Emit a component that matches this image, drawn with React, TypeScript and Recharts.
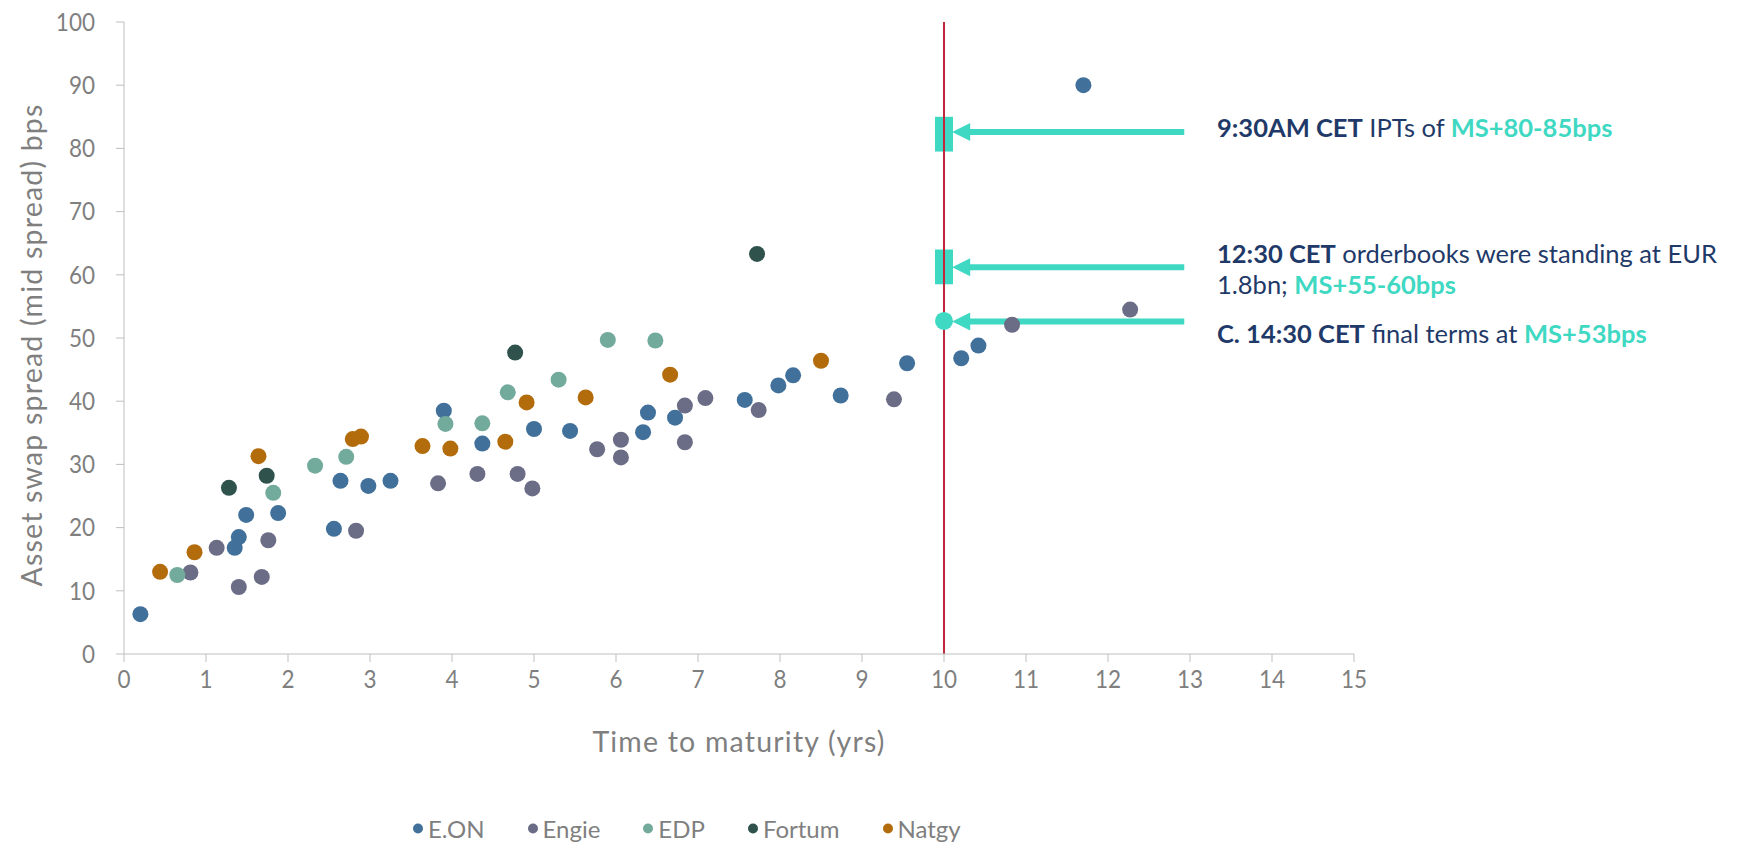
import React from 'react';
import {
  ScatterChart,
  Scatter,
  XAxis,
  YAxis,
  ReferenceLine,
  ReferenceArea,
  ReferenceDot,
} from 'recharts';

// bond points: time to maturity (yrs) vs asset swap spread (bps)
const eon = [
  { x: 0.2, y: 6.3 }, { x: 1.35, y: 16.8 }, { x: 1.4, y: 18.5 }, { x: 1.49, y: 22 },
  { x: 1.88, y: 22.3 }, { x: 2.56, y: 19.8 }, { x: 2.64, y: 27.4 }, { x: 2.98, y: 26.6 },
  { x: 3.25, y: 27.4 }, { x: 3.9, y: 38.5 }, { x: 4.37, y: 33.3 }, { x: 5.0, y: 35.6 },
  { x: 5.44, y: 35.3 }, { x: 6.33, y: 35.1 }, { x: 6.39, y: 38.2 }, { x: 6.72, y: 37.4 },
  { x: 7.57, y: 40.2 }, { x: 7.98, y: 42.5 }, { x: 8.16, y: 44.1 }, { x: 8.74, y: 40.9 },
  { x: 9.55, y: 46.0 }, { x: 10.21, y: 46.8 }, { x: 10.42, y: 48.8 }, { x: 11.7, y: 90 },
];
const engie = [
  { x: 0.81, y: 12.9 }, { x: 1.13, y: 16.8 }, { x: 1.4, y: 10.6 }, { x: 1.68, y: 12.2 },
  { x: 1.76, y: 18.0 }, { x: 2.83, y: 19.5 }, { x: 3.83, y: 27.0 }, { x: 4.31, y: 28.5 },
  { x: 4.8, y: 28.5 }, { x: 4.98, y: 26.2 }, { x: 5.77, y: 32.4 }, { x: 6.06, y: 33.9 },
  { x: 6.06, y: 31.1 }, { x: 6.84, y: 39.3 }, { x: 6.84, y: 33.5 }, { x: 7.09, y: 40.5 },
  { x: 7.74, y: 38.6 }, { x: 9.39, y: 40.3 }, { x: 10.83, y: 52.1 }, { x: 12.27, y: 54.5 },
];
const edp = [
  { x: 0.65, y: 12.5 }, { x: 1.82, y: 25.5 }, { x: 2.33, y: 29.8 }, { x: 2.71, y: 31.2 },
  { x: 3.92, y: 36.4 }, { x: 4.37, y: 36.5 }, { x: 4.68, y: 41.4 }, { x: 5.3, y: 43.4 },
  { x: 5.9, y: 49.7 }, { x: 6.48, y: 49.6 },
];
const fortum = [
  { x: 1.28, y: 26.3 }, { x: 1.74, y: 28.2 }, { x: 4.77, y: 47.7 }, { x: 7.72, y: 63.3 },
];
const natgy = [
  { x: 0.44, y: 13.0 }, { x: 0.86, y: 16.1 }, { x: 1.64, y: 31.3 }, { x: 2.79, y: 34.0 },
  { x: 2.89, y: 34.4 }, { x: 3.64, y: 32.9 }, { x: 3.98, y: 32.5 }, { x: 4.65, y: 33.6 },
  { x: 4.91, y: 39.8 }, { x: 5.63, y: 40.6 }, { x: 6.66, y: 44.2 }, { x: 8.5, y: 46.4 },
];

const seriesNames = ['E.ON', 'Engie', 'EDP', 'Fortum', 'Natgy'];
const seriesData = [eon, engie, edp, fortum, natgy];
const seriesColors = ['#41709A', '#6B6D87', '#72AA9C', '#2F524D', '#B36C0C'];

const xTicks = [0, 1, 2, 3, 4, 5, 6, 7, 8, 9, 10, 11, 12, 13, 14, 15];
const yTicks = [0, 10, 20, 30, 40, 50, 60, 70, 80, 90, 100];

// pricing timeline markers at the 10y point
const pricingX = 10;
const ranges = [
  { y1: 79.5, y2: 85 },
  { y1: 58.5, y2: 64 },
];
const finalSpread = 52.7;
const arrowYs = [82.6, 61.2, 52.6];
const arrowFromX = 12.93;
const arrowToX = 10.1;

const TEAL = '#3FD8C2';
const NAVY = '#1F3A68';
const GREY = '#7F7F7F';
const FONT = 'Lato, "Open Sans", sans-serif';

const Arrow = (props: any) => {
  const { x1, y1, x2 } = props;
  const tip = Math.min(x1, x2);
  const tail = Math.max(x1, x2);
  const head = 18;
  return (
    <g>
      <line x1={tail} y1={y1} x2={tip + head - 2} y2={y1} stroke={TEAL} strokeWidth={6} />
      <polygon
        points={`${tip},${y1} ${tip + head},${y1 - 9} ${tip + head},${y1 + 9}`}
        fill={TEAL}
      />
    </g>
  );
};

// narrow-ish tick text, closer to the original Calibri look
const XTick = ({ x, y, payload }: any) => (
  <g transform={`translate(${x},${y})`}>
    <text transform="scale(0.9,1)" textAnchor="middle" dy="0.71em" fontSize={25} fill={GREY} fontFamily={FONT}>
      {payload.value}
    </text>
  </g>
);

const YTick = ({ x, y, payload }: any) => (
  <g transform={`translate(${x},${y})`}>
    <text transform="scale(0.9,1)" textAnchor="end" dy="0.355em" fontSize={25} fill={GREY} fontFamily={FONT}>
      {payload.value}
    </text>
  </g>
);

export default function App() {
  return (
    <div style={{
      position: 'absolute',
      left: 0,
      top: 0,
      width: 1748,
      height: 843,
      backgroundColor: '#ffffff',
      fontFamily: FONT,
      overflow: 'hidden'
    }}>
      <ScatterChart
        width={1748}
        height={843}
        margin={{ top: 22, right: 394, left: 0, bottom: 129 }}
      >
        <XAxis
          type="number"
          dataKey="x"
          domain={[0, 15]}
          ticks={xTicks}
          interval={0}
          height={60}
          tickSize={8}
          tickMargin={8}
          tick={<XTick />}
          axisLine={{ stroke: '#BFBFBF' }}
          tickLine={{ stroke: '#BFBFBF' }}
        />
        <YAxis
          type="number"
          dataKey="y"
          domain={[0, 100]}
          ticks={yTicks}
          interval={0}
          width={124}
          tickSize={8}
          tickMargin={21}
          tick={<YTick />}
          axisLine={{ stroke: '#BFBFBF' }}
          tickLine={{ stroke: '#BFBFBF' }}
        />
        {seriesNames.map((name, i) => (
          <Scatter
            key={name}
            name={name}
            data={seriesData[i]}
            fill={seriesColors[i]}
            shape={(p: any) => <circle cx={p.cx} cy={p.cy} r={8} fill={seriesColors[i]} />}
            isAnimationActive={false}
          />
        ))}
        <ReferenceLine x={pricingX} stroke="#C0283C" strokeWidth={2} />
        {ranges.map((r, i) => (
          <ReferenceArea
            key={i}
            x1={pricingX - 0.11}
            x2={pricingX + 0.11}
            y1={r.y1}
            y2={r.y2}
            fill={TEAL}
            fillOpacity={1}
            stroke="none"
          />
        ))}
        <ReferenceDot x={pricingX} y={finalSpread} r={9} fill={TEAL} stroke="none" />
        {arrowYs.map((y, i) => (
          <ReferenceLine
            key={'a' + i}
            segment={[{ x: arrowFromX, y }, { x: arrowToX, y }]}
            shape={Arrow}
          />
        ))}
      </ScatterChart>

      {/* axis titles */}
      <div style={{
        position: 'absolute',
        left: 31,
        top: 345,
        transform: 'translate(-50%, -50%) rotate(-90deg)',
        whiteSpace: 'nowrap',
        fontSize: 28.5,
        letterSpacing: 1.2,
        color: GREY
      }}>
        Asset swap spread (mid spread) bps
      </div>
      <div style={{
        position: 'absolute',
        left: 739,
        top: 741,
        transform: 'translate(-50%, -50%)',
        whiteSpace: 'nowrap',
        fontSize: 28.5,
        letterSpacing: 1.2,
        color: GREY
      }}>
        Time to maturity (yrs)
      </div>

      {/* annotations */}
      <div style={{ position: 'absolute', left: 1217, top: 112, fontSize: 25.5, lineHeight: '31px', color: NAVY, whiteSpace: 'nowrap' }}>
        <b>9:30AM CET</b> IPTs of <b style={{ color: TEAL }}>MS+80-85bps</b>
      </div>
      <div style={{ position: 'absolute', left: 1217, top: 238, fontSize: 25.5, lineHeight: '31px', color: NAVY, whiteSpace: 'nowrap' }}>
        <b>12:30 CET</b> orderbooks were standing at EUR<br />
        1.8bn; <b style={{ color: TEAL }}>MS+55-60bps</b>
      </div>
      <div style={{ position: 'absolute', left: 1217, top: 318, fontSize: 25.5, lineHeight: '31px', color: NAVY, whiteSpace: 'nowrap' }}>
        <b>C. 14:30 CET</b> final terms at <b style={{ color: TEAL }}>MS+53bps</b>
      </div>

      {/* legend */}
      <div style={{
        position: 'absolute',
        left: 413,
        top: 828,
        transform: 'translateY(-50%)',
        display: 'flex',
        alignItems: 'center',
        gap: 43,
        fontSize: 24,
        color: GREY,
        whiteSpace: 'nowrap'
      }}>
        {seriesNames.map((name, i) => (
          <div key={name} style={{ display: 'flex', alignItems: 'center', gap: 5 }}>
            <span style={{
              width: 10,
              height: 10,
              borderRadius: '50%',
              backgroundColor: seriesColors[i],
              display: 'inline-block'
            }} />
            <span>{name}</span>
          </div>
        ))}
      </div>
    </div>
  );
}
